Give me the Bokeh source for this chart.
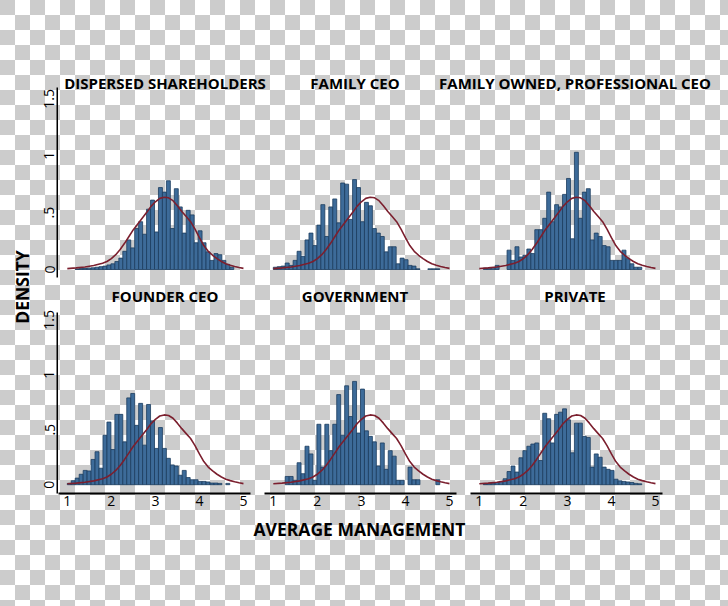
from bokeh.plotting import figure
from bokeh.models import Range1d, Label, FixedTicker
from bokeh.layouts import row, column
from bokeh.embed import file_html
from bokeh.resources import INLINE

# ---------------- data ----------------
panel_titles = ["DISPERSED SHAREHOLDERS", "FAMILY CEO", "FAMILY OWNED, PROFESSIONAL CEO",
                "FOUNDER CEO", "GOVERNMENT", "PRIVATE"]
x_label = "AVERAGE MANAGEMENT"
y_label = "DENSITY"

bin_start = 1.0
bin_width = 0.09

dispersed = [0, 0, 0.005, 0.008, 0.01, 0.012, 0.015, 0.02, 0.025, 0.03, 0.04, 0.05, 0.07, 0.1,
             0.16, 0.26, 0.19, 0.36, 0.42, 0.31, 0.53, 0.61, 0.33, 0.72, 0.68, 0.78, 0.36, 0.71,
             0.55, 0.32, 0.52, 0.48, 0.235, 0.34, 0.235, 0.155, 0.08, 0.14, 0.13, 0.08, 0.045, 0.02]
family_ceo = [0.02, 0.025, 0.03, 0.057, 0.036, 0.08, 0.16, 0.116, 0.26, 0.32, 0.21, 0.39, 0.57,
              0.29, 0.55, 0.62, 0.41, 0.76, 0.75, 0.44, 0.79, 0.72, 0.42, 0.59, 0.56, 0.36, 0.32,
              0.29, 0.155, 0.2, 0.2, 0.05, 0.1, 0.086, 0.036, 0.03, 0.006, 0, 0, 0.006, 0.006, 0.006]
family_prof = [0, 0.012, 0.012, 0.012, 0.036, 0, 0, 0.17, 0.08, 0.2, 0.11, 0.125, 0.18, 0.14,
               0.35, 0.35, 0.45, 0.68, 0.42, 0.57, 0.55, 0.66, 0.80, 0.27, 1.03, 0.45, 0.68, 0.71,
               0.26, 0.32, 0.29, 0.21, 0.2, 0.08, 0.08, 0.08, 0.17, 0.095, 0.05, 0.02, 0.02]
founder_ceo = [0.012, 0.036, 0.06, 0.095, 0.13, 0.125, 0.23, 0.30, 0.15, 0.45, 0.57, 0.32, 0.64,
               0.64, 0.39, 0.79, 0.83, 0.54, 0.74, 0.36, 0.73, 0.58, 0.33, 0.52, 0.33, 0.24, 0.18,
               0.17, 0.086, 0.13, 0.065, 0.045, 0.045, 0.03, 0.03, 0.025, 0.015, 0.015, 0.012, 0,
               0.012]
government = [0, 0, 0, 0.075, 0.075, 0.04, 0.2, 0.1, 0.35, 0.28, 0.04, 0.55, 0.16, 0.55, 0.31,
              0.55, 0.82, 0.45, 0.9, 0.62, 0.94, 0.47, 0.87, 0.49, 0.44, 0.39, 0.17, 0.38, 0.14,
              0.31, 0.26, 0.04, 0.04, 0, 0.16, 0.045, 0.045, 0, 0, 0, 0, 0.045]
private = [0, 0.005, 0.01, 0.015, 0.02, 0.03, 0.054, 0.12, 0.17, 0.115, 0.245, 0.31, 0.35, 0.37,
           0.38, 0.22, 0.65, 0.6, 0.38, 0.64, 0.66, 0.69, 0.59, 0.29, 0.56, 0.56, 0.44, 0.43, 0.16,
           0.28, 0.25, 0.16, 0.14, 0.13, 0.05, 0.035, 0.03, 0.025, 0.02, 0.012, 0.008]

# overall kernel density (same in every panel)
curve_x = [1.0, 1.2, 1.4, 1.6, 1.8, 1.9, 2.0, 2.1, 2.2, 2.3, 2.4, 2.5, 2.6, 2.7, 2.8, 2.9, 3.0,
           3.1, 3.2, 3.3, 3.4, 3.5, 3.6, 3.7, 3.8, 3.9, 4.0, 4.1, 4.2, 4.3, 4.4, 4.5, 4.6, 4.7,
           4.8, 4.9, 5.0]
curve_y = [0.008, 0.014, 0.022, 0.035, 0.055, 0.07, 0.095, 0.13, 0.175, 0.23, 0.29, 0.35, 0.40,
           0.45, 0.50, 0.555, 0.595, 0.625, 0.635, 0.63, 0.605, 0.56, 0.51, 0.465, 0.42, 0.355,
           0.28, 0.21, 0.16, 0.125, 0.095, 0.07, 0.05, 0.037, 0.026, 0.017, 0.01]

x_ticks = [1, 2, 3, 4, 5]
y_ticks = [0, 0.5, 1, 1.5]
y_tick_labels = {0: "0", 0.5: ".5", 1: "1", 1.5: "1.5"}

panel_data = [dispersed, family_ceo, family_prof, founder_ceo, government, private]

# ---------------- style / geometry ----------------
FONT = "Open Sans"
BAR_FILL = "#3d6b99"
BAR_LINE = "#1c3c5e"
CURVE = "#7b1f2e"

X_LO, X_HI = 0.8, 5.16
FRAME_W = 192
TOP_Y0, TOP_S = 269.0, 113.8     # page y of density 0, px per unit (top row)
BOT_Y0, BOT_S = 484.2, 109.9     # bottom row
LEFT_W, YCOL_W = 34, 24
RIGHT_W = 728 - LEFT_W - YCOL_W   # 670
TXT_SHIFT = 6.5                   # label baseline correction


def yrange(y0, s, top_px, bot_px):
    return Range1d((y0 - bot_px) / s, (y0 - top_px) / s)


def clean(p):
    p.background_fill_color = None
    p.border_fill_color = None
    p.outline_line_color = None
    p.grid.visible = False


def style_axis(ax):
    ax.axis_line_color = "black"
    ax.axis_line_width = 2
    ax.major_tick_line_color = None
    ax.minor_tick_line_color = None
    ax.major_tick_out = 0
    ax.major_tick_in = 0
    ax.major_label_text_font = FONT
    ax.major_label_text_font_size = "14px"
    ax.major_label_text_color = "black"


def strip(w, h):
    p = figure(width=w, height=h, x_range=Range1d(0, w), y_range=Range1d(0, h),
               x_axis_location=None, y_axis_location=None, min_border=0,
               toolbar_location=None, output_backend="svg")
    clean(p)
    return p


ROW1_TOP, ROW1_BOT, ROW1_PAD = 96, 277, 3
ROW2_TOP, ROW2_BOT, ROW2_PAD = 312, 493, 22


def panel(heights, col, rowi):
    lb = 0 if col == 0 else 7
    rb = 66 if col == 2 else 7
    if rowi == 0:
        rng = yrange(TOP_Y0, TOP_S, ROW1_TOP, ROW1_BOT)
        pad = ROW1_PAD
        fh = ROW1_BOT - ROW1_TOP
    else:
        rng = yrange(BOT_Y0, BOT_S, ROW2_TOP, ROW2_BOT)
        pad = ROW2_PAD
        fh = ROW2_BOT - ROW2_TOP
    p = figure(width=lb + FRAME_W + rb, height=fh + pad,
               x_range=Range1d(X_LO, X_HI), y_range=rng,
               x_axis_location="below" if rowi == 1 else None, y_axis_location=None,
               min_border_left=lb, min_border_right=rb, min_border_top=0, min_border_bottom=pad,
               toolbar_location=None, output_backend="svg")
    clean(p)
    lefts, rights, tops = [], [], []
    for i, h in enumerate(heights):
        if h > 0:
            lefts.append(bin_start + i * bin_width)
            rights.append(bin_start + (i + 1) * bin_width)
            tops.append(h)
    p.quad(left=lefts, right=rights, bottom=0, top=tops,
           fill_color=BAR_FILL, line_color=BAR_LINE, line_width=0.8)
    p.line(curve_x, curve_y, line_color=CURVE, line_width=1.6)
    if rowi == 1:
        ax = p.xaxis[0]
        style_axis(ax)
        ax.ticker = FixedTicker(ticks=x_ticks)
        ax.major_label_standoff = 2
    return p


def yaxis_fig(y0, s, c_top, c_bot, f_top, f_bot):
    p = figure(width=YCOL_W, height=c_bot - c_top, x_range=Range1d(0, 1),
               y_range=yrange(y0, s, f_top, f_bot),
               x_axis_location=None, y_axis_location="left",
               min_border_left=YCOL_W - 1, min_border_right=0,
               min_border_top=f_top - c_top, min_border_bottom=c_bot - f_bot,
               toolbar_location=None, output_backend="svg")
    clean(p)
    ax = p.yaxis[0]
    style_axis(ax)
    ax.ticker = FixedTicker(ticks=y_ticks)
    ax.major_label_overrides = y_tick_labels
    ax.major_label_orientation = "vertical"
    ax.major_label_standoff = 3
    return p


def title_label(x, y, text, size):
    return Label(x=x, y=y, text=text, text_align="center", text_baseline="alphabetic",
                 text_font=FONT, text_font_style="bold", text_font_size=size,
                 text_color="black")


# ---------------- build ----------------
figs = [panel(panel_data[i], i % 3, i // 3) for i in range(6)]

x0 = LEFT_W + YCOL_W
title_x = [164.5 - x0, 354.5 - x0, 574.5 - x0]
s1 = strip(RIGHT_W, ROW1_TOP)
for c in range(3):
    s1.add_layout(title_label(title_x[c], ROW1_TOP - 89.3 + TXT_SHIFT, panel_titles[c], "15px"))

s2_top = ROW1_BOT + ROW1_PAD
s2_h = ROW2_TOP - s2_top
s2 = strip(RIGHT_W, s2_h)
for c in range(3):
    s2.add_layout(title_label(title_x[c], s2_h - (301.7 - s2_top) + TXT_SHIFT,
                              panel_titles[3 + c], "15px"))

s3_top = ROW2_BOT + ROW2_PAD
s3_h = 606 - s3_top
s3 = strip(RIGHT_W, s3_h)
s3.add_layout(title_label(359 - x0, s3_h - (534.5 - s3_top) + TXT_SHIFT, x_label, "17.5px"))

dens = strip(LEFT_W, 606)
lab = title_label(28.3 - TXT_SHIFT, 606 - 286.5, y_label, "17.5px")
lab.angle = 1.5707963
dens.add_layout(lab)

y_top = yaxis_fig(TOP_Y0, TOP_S, 0, ROW1_BOT + ROW1_PAD, 87, ROW1_BOT)
y_bot = yaxis_fig(BOT_Y0, BOT_S, ROW1_BOT + ROW1_PAD, 606, ROW2_TOP, ROW2_BOT)
ycol = column(y_top, y_bot)

rightcol = column(s1, row(*figs[:3]), s2, row(*figs[3:]), s3)

root = row(dens, ycol, rightcol,
           styles={"background-color": "#ffffff",
                   "background-image": "repeating-conic-gradient(#ffffff 0% 25%, #cccccc 0% 50%)",
                   "background-size": "30px 30px"})

open("out.html", "w").write(file_html(root, INLINE))
